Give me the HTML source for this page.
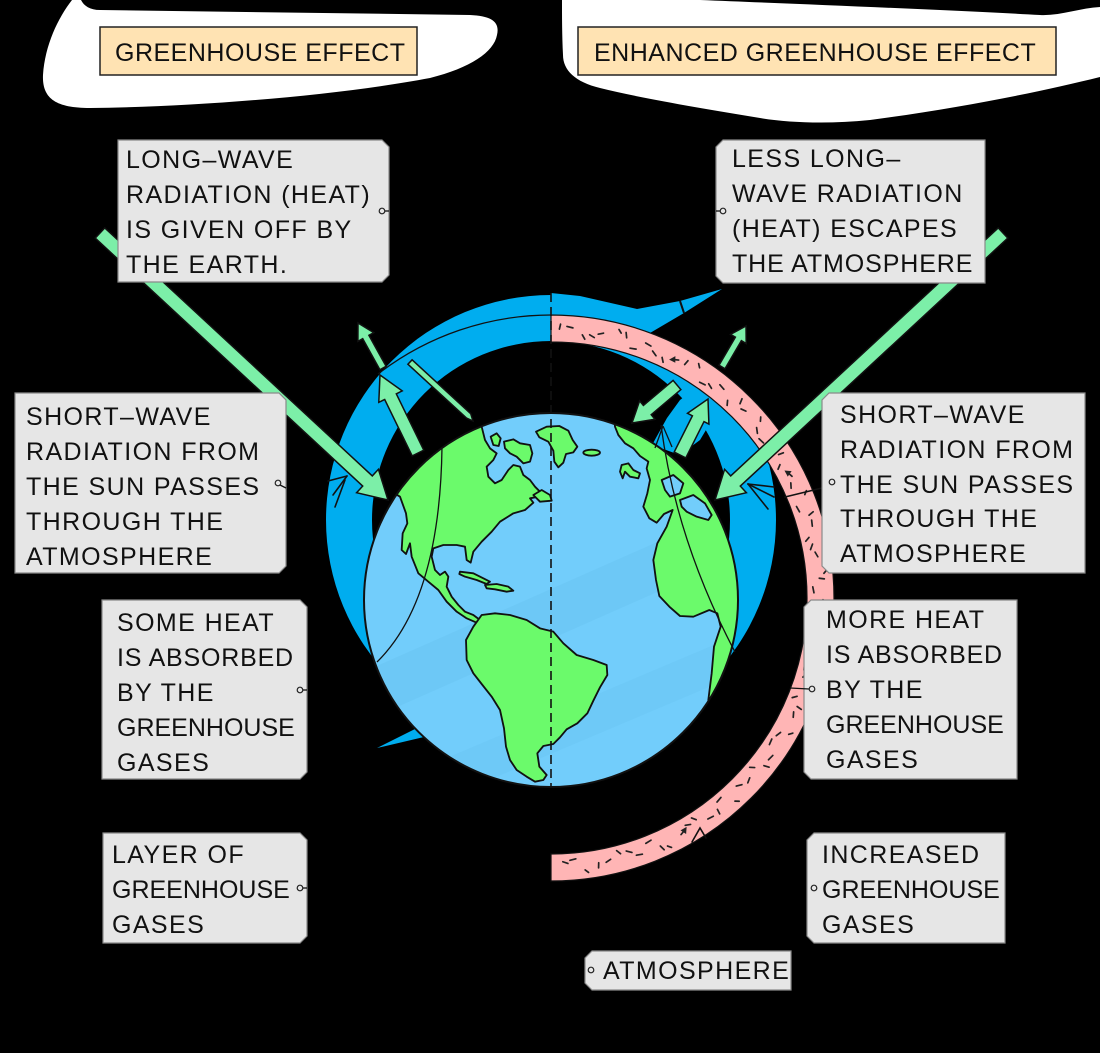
<!DOCTYPE html>
<html><head><meta charset="utf-8"><style>
html,body{margin:0;padding:0;background:#000;}
svg{display:block;}
.t{font-family:"Liberation Sans",sans-serif;font-size:25px;fill:#111;letter-spacing:1.4px;}
.tt{font-family:"Liberation Sans",sans-serif;font-size:25px;fill:#111;letter-spacing:0.5px;}
.box{fill:#e6e6e6;stroke:#8a8a8a;stroke-width:1.2;}
.arr{fill:#7cefa8;stroke:#111;stroke-width:1.5;stroke-linejoin:miter;}
.dot{fill:#e6e6e6;stroke:#222;stroke-width:1.2;}
.ln{stroke:#111;stroke-width:1.3;fill:none;}
.land{fill:#6bfa6b;stroke:#111;stroke-width:5.5;stroke-linejoin:round;}
.sea{fill:#72cdfb;stroke:#111;stroke-width:5.5;stroke-linejoin:round;}
.pd line{stroke:#222;stroke-width:1.7;stroke-linecap:round;}
</style></head><body>
<svg width="1100" height="1053" viewBox="0 0 1100 1053" xmlns="http://www.w3.org/2000/svg">
<defs>
<clipPath id="blueClip" clipPathUnits="userSpaceOnUse"><rect x="0" y="0" width="551" height="1053"/><circle cx="551" cy="598" r="283"/></clipPath>
<clipPath id="earthClip" clipPathUnits="userSpaceOnUse"><circle cx="551" cy="600" r="187"/></clipPath>
</defs>
<rect width="1100" height="1053" fill="#000"/>

<!-- white blobs -->
<path d="M72,0 L81,0 C84,6 90,10 100,10 L470,15 C492,16 500,22 497,35 C494,52 470,68 430,78 C340,95 200,107 90,108 C55,108 42,98 43,75 C45,45 58,18 72,0 Z" fill="#fff"/>
<path d="M562,0 L700,0 C800,4 950,10 1040,15 C1060,16 1080,8 1100,7 L1100,77 C1040,92 960,108 870,120 C830,124 790,123 760,118 C700,108 640,98 600,88 C575,82 563,70 563,55 C562,35 562,15 562,0 Z" fill="#fff"/>

<!-- titles -->
<rect x="100" y="27" width="317" height="48" fill="#ffe3b3" stroke="#222" stroke-width="1.5"/>
<text class="tt" x="115" y="61">GREENHOUSE EFFECT</text>
<rect x="578" y="27" width="478" height="48" fill="#ffe3b3" stroke="#222" stroke-width="1.5"/>
<text class="tt" x="594" y="61">ENHANCED GREENHOUSE EFFECT</text>

<!-- blue atmosphere ring -->
<g clip-path="url(#blueClip)">
<path fill-rule="evenodd" fill="#00adef" d="M326,520 a225,225 0 1 0 450,0 a225,225 0 1 0 -450,0 Z M372,520 a179,179 0 1 0 358,0 a179,179 0 1 0 -358,0 Z"/>
</g>
<path fill="#00adef" d="M551,293 L580,296 L637,309 L680,301 L722,289 L684,313 L650,333 A283,283 0 0 0 551,315 Z"/>
<line x1="680" y1="301" x2="684" y2="313" stroke="#111" stroke-width="2"/>
<path fill="#00adef" d="M652,445 L667,418 L680,400 L693,390 L707,397 L712,420 L700,440 L680,455 Z"/>
<path fill="#00adef" d="M377,748 L421,726 L424,737 Z"/>

<!-- black arc line left -->
<path d="M378,374 A283,283 0 0 1 551,315" class="ln" stroke-width="1.8"/>

<!-- pink enhanced ring -->
<path d="M551,315 A283,283 0 0 1 551,881 L551,854 A256,256 0 0 0 551,342 Z" fill="#ffb5b5" stroke="#111" stroke-width="1.2"/>
<g class="pd">
<line x1="548" y1="326" x2="554" y2="327" transform="rotate(4 551 598)"/>
<line x1="550" y1="333" x2="553" y2="337" transform="rotate(7 551 598)"/>
<line x1="547" y1="330" x2="552" y2="328" transform="rotate(11 551 598)"/>
<line x1="552" y1="321" x2="555" y2="324" transform="rotate(14 551 598)"/>
<line x1="549" y1="336" x2="555" y2="335" transform="rotate(18 551 598)"/>
<line x1="548" y1="326" x2="554" y2="327" transform="rotate(21 551 598)"/>
<line x1="550" y1="333" x2="553" y2="337" transform="rotate(25 551 598)"/>
<line x1="547" y1="330" x2="552" y2="328" transform="rotate(28 551 598)"/>
<line x1="552" y1="321" x2="555" y2="324" transform="rotate(32 551 598)"/>
<line x1="549" y1="336" x2="555" y2="335" transform="rotate(35 551 598)"/>
<line x1="548" y1="326" x2="554" y2="327" transform="rotate(39 551 598)"/>
<line x1="550" y1="333" x2="553" y2="337" transform="rotate(42 551 598)"/>
<line x1="547" y1="330" x2="552" y2="328" transform="rotate(46 551 598)"/>
<line x1="552" y1="321" x2="555" y2="324" transform="rotate(49 551 598)"/>
<line x1="549" y1="336" x2="555" y2="335" transform="rotate(53 551 598)"/>
<line x1="548" y1="326" x2="554" y2="327" transform="rotate(56 551 598)"/>
<line x1="550" y1="333" x2="553" y2="337" transform="rotate(60 551 598)"/>
<line x1="547" y1="330" x2="552" y2="328" transform="rotate(63 551 598)"/>
<line x1="552" y1="321" x2="555" y2="324" transform="rotate(67 551 598)"/>
<line x1="549" y1="336" x2="555" y2="335" transform="rotate(70 551 598)"/>
<line x1="548" y1="326" x2="554" y2="327" transform="rotate(74 551 598)"/>
<line x1="550" y1="333" x2="553" y2="337" transform="rotate(77 551 598)"/>
<line x1="547" y1="330" x2="552" y2="328" transform="rotate(81 551 598)"/>
<line x1="552" y1="321" x2="555" y2="324" transform="rotate(84 551 598)"/>
<line x1="549" y1="336" x2="555" y2="335" transform="rotate(88 551 598)"/>
<line x1="548" y1="326" x2="554" y2="327" transform="rotate(91 551 598)"/>
<line x1="550" y1="333" x2="553" y2="337" transform="rotate(95 551 598)"/>
<line x1="547" y1="330" x2="552" y2="328" transform="rotate(98 551 598)"/>
<line x1="552" y1="321" x2="555" y2="324" transform="rotate(102 551 598)"/>
<line x1="549" y1="336" x2="555" y2="335" transform="rotate(105 551 598)"/>
<line x1="548" y1="326" x2="554" y2="327" transform="rotate(109 551 598)"/>
<line x1="550" y1="333" x2="553" y2="337" transform="rotate(112 551 598)"/>
<line x1="547" y1="330" x2="552" y2="328" transform="rotate(116 551 598)"/>
<line x1="552" y1="321" x2="555" y2="324" transform="rotate(119 551 598)"/>
<line x1="549" y1="336" x2="555" y2="335" transform="rotate(123 551 598)"/>
<line x1="548" y1="326" x2="554" y2="327" transform="rotate(126 551 598)"/>
<line x1="550" y1="333" x2="553" y2="337" transform="rotate(130 551 598)"/>
<line x1="547" y1="330" x2="552" y2="328" transform="rotate(133 551 598)"/>
<line x1="552" y1="321" x2="555" y2="324" transform="rotate(137 551 598)"/>
<line x1="549" y1="336" x2="555" y2="335" transform="rotate(140 551 598)"/>
<line x1="548" y1="326" x2="554" y2="327" transform="rotate(144 551 598)"/>
<line x1="550" y1="333" x2="553" y2="337" transform="rotate(147 551 598)"/>
<line x1="547" y1="330" x2="552" y2="328" transform="rotate(151 551 598)"/>
<line x1="552" y1="321" x2="555" y2="324" transform="rotate(154 551 598)"/>
<line x1="549" y1="336" x2="555" y2="335" transform="rotate(158 551 598)"/>
<line x1="548" y1="326" x2="554" y2="327" transform="rotate(161 551 598)"/>
<line x1="550" y1="333" x2="553" y2="337" transform="rotate(165 551 598)"/>
<line x1="547" y1="330" x2="552" y2="328" transform="rotate(168 551 598)"/>
<line x1="552" y1="321" x2="555" y2="324" transform="rotate(172 551 598)"/>
<line x1="549" y1="336" x2="555" y2="335" transform="rotate(175 551 598)"/>
<line x1="551" y1="324" x2="550" y2="329" transform="rotate(2 551 598)"/>
<line x1="553" y1="334" x2="548" y2="332" transform="rotate(9 551 598)"/>
<line x1="550" y1="322" x2="552" y2="327" transform="rotate(16 551 598)"/>
<line x1="548" y1="331" x2="553" y2="334" transform="rotate(23 551 598)"/>
<line x1="551" y1="324" x2="550" y2="329" transform="rotate(30 551 598)"/>
<line x1="553" y1="334" x2="548" y2="332" transform="rotate(37 551 598)"/>
<line x1="550" y1="322" x2="552" y2="327" transform="rotate(44 551 598)"/>
<line x1="548" y1="331" x2="553" y2="334" transform="rotate(51 551 598)"/>
<line x1="551" y1="324" x2="550" y2="329" transform="rotate(58 551 598)"/>
<line x1="553" y1="334" x2="548" y2="332" transform="rotate(65 551 598)"/>
<line x1="550" y1="322" x2="552" y2="327" transform="rotate(72 551 598)"/>
<line x1="548" y1="331" x2="553" y2="334" transform="rotate(79 551 598)"/>
<line x1="551" y1="324" x2="550" y2="329" transform="rotate(86 551 598)"/>
<line x1="553" y1="334" x2="548" y2="332" transform="rotate(93 551 598)"/>
<line x1="550" y1="322" x2="552" y2="327" transform="rotate(100 551 598)"/>
<line x1="548" y1="331" x2="553" y2="334" transform="rotate(107 551 598)"/>
<line x1="551" y1="324" x2="550" y2="329" transform="rotate(114 551 598)"/>
<line x1="553" y1="334" x2="548" y2="332" transform="rotate(121 551 598)"/>
<line x1="550" y1="322" x2="552" y2="327" transform="rotate(128 551 598)"/>
<line x1="548" y1="331" x2="553" y2="334" transform="rotate(135 551 598)"/>
<line x1="551" y1="324" x2="550" y2="329" transform="rotate(142 551 598)"/>
<line x1="553" y1="334" x2="548" y2="332" transform="rotate(149 551 598)"/>
<line x1="550" y1="322" x2="552" y2="327" transform="rotate(156 551 598)"/>
<line x1="548" y1="331" x2="553" y2="334" transform="rotate(163 551 598)"/>
<line x1="551" y1="324" x2="550" y2="329" transform="rotate(170 551 598)"/>
<line x1="553" y1="334" x2="548" y2="332" transform="rotate(177 551 598)"/>
</g>
<g fill="#222">
<polygon points="548,332 555,332 552,326" transform="rotate(27 551 598)"/>
<polygon points="548,332 555,332 552,326" transform="rotate(62 551 598)"/>
<polygon points="548,332 555,332 552,326" transform="rotate(150 551 598)"/>
</g>

<!-- long incoming arrows -->
<polygon class="arr" points="95.2,238.1 362.7,486.1 356.6,492.7 388,500 378.4,469.3 372.3,475.9 104.8,227.9"/>
<polygon class="arr" points="1007.8,238.1 740.3,486.1 746.4,492.7 715,500 724.6,469.3 730.7,475.9 998.2,227.9"/>

<!-- earth -->
<circle cx="551" cy="600" r="187" fill="#72cdfb"/>
<g clip-path="url(#earthClip)">
<polygon points="300,700 820,470 820,520 300,750" fill="#68c3f0" opacity="0.45"/>
<polygon points="300,820 820,600 820,640 300,860" fill="#68c3f0" opacity="0.35"/>
<g transform="translate(300 280) scale(0.333333)">
<path class="land" d="M545,440 L548,400 L470,420 L330,520 L250,620 L300,650 L318,700 L322,730 L308,760 L305,810 L318,822 L330,790 L335,830 L355,880 L385,905 L415,930 L440,965 L470,995 L500,1015 L530,1028 L540,1020 L520,1005 L495,995 L475,975 L455,950 L440,920 L445,890 L435,875 L420,885 L405,870 L395,830 L400,805 L430,795 L470,795 L495,800 L500,840 L512,848 L520,815 L545,785 L575,755 L600,725 L640,700 L675,690 L700,668 L690,655 L715,650 L720,635 L705,620 L690,600 L670,585 L660,560 L640,555 L625,570 L605,600 L585,610 L565,590 L560,560 L580,540 L590,520 L570,505 L555,480 Z"/>
<path class="land" d="M572,470 L590,460 L602,475 L596,498 L580,495 Z"/>
<path class="land" d="M612,485 L640,478 L660,490 L690,495 L697,520 L690,545 L670,550 L650,530 L630,520 L615,505 Z"/>
<path class="land" d="M700,645 L725,630 L750,645 L755,662 L720,665 Z"/>
<path class="land" d="M708,455 L740,440 L778,438 L805,452 L818,480 L832,500 L820,517 L798,522 L790,548 L775,562 L763,545 L760,512 L745,485 L718,472 Z"/>
<ellipse class="land" cx="875" cy="518" rx="25" ry="9"/>
<path class="land" d="M480,875 L520,880 L550,895 L570,905 L560,912 L530,900 L495,890 L478,882 Z"/>
<path class="land" d="M555,915 L590,912 L625,920 L640,932 L620,935 L585,928 L560,925 Z"/>
<path class="land" d="M520,1040 L545,1005 L585,1000 L630,1005 L680,1020 L720,1045 L760,1055 L790,1090 L830,1125 L880,1140 L920,1155 L922,1185 L900,1222 L880,1262 L862,1300 L832,1330 L800,1348 L780,1372 L760,1392 L730,1398 L712,1420 L718,1460 L740,1485 L730,1500 L705,1505 L680,1490 L650,1470 L630,1440 L618,1400 L612,1345 L600,1290 L575,1250 L545,1212 L520,1180 L500,1140 L498,1080 Z"/>
<path class="land" d="M940,380 L945,440 L955,465 L975,490 L1000,505 L1020,528 L1045,545 L1040,565 L1050,600 L1042,640 L1030,680 L1048,715 L1070,728 L1092,702 L1118,690 L1100,740 L1072,790 L1060,840 L1068,900 L1078,948 L1108,980 L1140,1008 L1180,1010 L1228,990 L1252,1000 L1262,1040 L1242,1100 L1235,1180 L1225,1260 L1240,1300 L1400,1300 L1400,380 Z"/>
<path class="land" d="M965,555 L985,550 L1000,570 L1020,580 L1015,595 L990,590 L975,575 L968,595 L960,575 Z"/>
<path class="sea" d="M1085,600 L1120,585 L1150,610 L1140,640 L1110,650 L1095,630 Z"/>
<path class="sea" d="M1140,660 L1180,645 L1215,670 L1235,705 L1225,720 L1190,710 L1160,695 L1145,680 Z"/>
</g>
</g>
<!-- longitude lines -->
<path d="M442,447 Q440,600 377,662" class="ln"/>
<path d="M661,425 Q676,540 735,652" class="ln"/>
<line x1="663" y1="426" x2="655" y2="448" class="ln"/>
<line x1="663" y1="426" x2="672" y2="447" class="ln"/>
<circle cx="551" cy="600" r="187" fill="none" stroke="#111" stroke-width="2"/>
<line x1="551" y1="293" x2="551" y2="786" stroke="#111" stroke-width="1.6" stroke-dasharray="9 5"/>

<!-- short arrows -->
<polygon class="arr" points="423.8,450.2 396.3,393.8 402.2,390.9 380,375 378.8,402.3 384.7,399.5 412.2,455.9"/>
<polygon class="arr" points="386.1,366.3 368.9,335.3 373.7,332.6 358,323 357.9,341.4 362.7,338.7 379.9,369.7"/>
<polygon class="arr" points="407.9,364.2 466.5,418.1 473,421 470.7,413.7 412.1,359.8"/>
<polygon class="arr" points="685.8,457.9 704,421.6 708.9,424.1 708,399 687.5,413.3 692.4,415.8 674.2,452.1"/>
<polygon class="arr" points="725,368.8 741.4,340.7 746.2,343.5 746,326 730.6,334.4 735.4,337.1 719,365.2"/>
<polygon class="arr" points="680.9,389.6 651.2,414.7 655,419.3 632,423 639.6,400.9 643.4,405.5 673.1,380.4"/>

<!-- chevrons -->
<g stroke="#111" stroke-width="1.6" fill="none" stroke-linecap="round">
<line x1="328" y1="481" x2="347" y2="476"/>
<line x1="333" y1="495" x2="347" y2="476"/>
<line x1="335" y1="507" x2="345" y2="480"/>
<line x1="748" y1="484" x2="774" y2="487"/>
<line x1="748" y1="484" x2="774" y2="497"/>
<line x1="748" y1="484" x2="768" y2="509"/>
<polyline points="692,842 700,828 706,838"/>
<line x1="785" y1="497" x2="822" y2="488"/>
</g>

<!-- label boxes -->
<polygon class="box" points="118,140 382,140 389,147 389,275 382,282 118,282"/>
<text class="t" x="126" y="168">LONG–WAVE</text>
<text class="t" x="126" y="203">RADIATION (HEAT)</text>
<text class="t" x="126" y="238">IS GIVEN OFF BY</text>
<text class="t" x="126" y="273">THE EARTH.</text>
<line x1="385" y1="211" x2="389" y2="211" class="ln"/><circle class="dot" cx="382" cy="211" r="2.8"/>

<polygon class="box" points="723,140 985,140 985,283 723,283 716,276 716,147"/>
<text class="t" x="732" y="167">LESS LONG–</text>
<text class="t" x="732" y="202">WAVE RADIATION</text>
<text class="t" x="732" y="237">(HEAT) ESCAPES</text>
<text class="t" x="732" y="272" style="letter-spacing:0.9px">THE ATMOSPHERE</text>
<line x1="716" y1="211" x2="720" y2="211" class="ln"/><circle class="dot" cx="723" cy="211" r="2.8"/>

<polygon class="box" points="15,393 279,393 286,400 286,566 279,573 15,573"/>
<text class="t" x="26" y="425">SHORT–WAVE</text>
<text class="t" x="26" y="460">RADIATION FROM</text>
<text class="t" x="26" y="495">THE SUN PASSES</text>
<text class="t" x="26" y="530">THROUGH THE</text>
<text class="t" x="26" y="565">ATMOSPHERE</text>
<line x1="280" y1="485" x2="286" y2="488" class="ln"/><circle class="dot" cx="278" cy="483" r="2.8"/>

<polygon class="box" points="102,600 300,600 307,607 307,772 300,779 102,779"/>
<text class="t" x="117" y="631">SOME HEAT</text>
<text class="t" x="117" y="666" style="letter-spacing:0.8px">IS ABSORBED</text>
<text class="t" x="117" y="701">BY THE</text>
<text class="t" x="117" y="736" style="letter-spacing:0">GREENHOUSE</text>
<text class="t" x="117" y="771">GASES</text>
<line x1="303" y1="690" x2="307" y2="690" class="ln"/><circle class="dot" cx="300" cy="690" r="2.8"/>

<polygon class="box" points="103,833 300,833 307,840 307,936 300,943 103,943"/>
<text class="t" x="112" y="863">LAYER OF</text>
<text class="t" x="112" y="898" style="letter-spacing:0">GREENHOUSE</text>
<text class="t" x="112" y="933">GASES</text>
<line x1="303" y1="888" x2="307" y2="888" class="ln"/><circle class="dot" cx="300" cy="888" r="2.8"/>

<polygon class="box" points="829,393 1085,393 1085,573 829,573 822,566 822,400"/>
<text class="t" x="840" y="423">SHORT–WAVE</text>
<text class="t" x="840" y="458">RADIATION FROM</text>
<text class="t" x="840" y="493">THE SUN PASSES</text>
<text class="t" x="840" y="527">THROUGH THE</text>
<text class="t" x="840" y="562">ATMOSPHERE</text>
<circle class="dot" cx="832" cy="482" r="2.8"/>

<polygon class="box" points="811,600 1017,600 1017,779 811,779 804,772 804,607"/>
<text class="t" x="826" y="628">MORE HEAT</text>
<text class="t" x="826" y="663" style="letter-spacing:0.8px">IS ABSORBED</text>
<text class="t" x="826" y="698">BY THE</text>
<text class="t" x="826" y="733" style="letter-spacing:0">GREENHOUSE</text>
<text class="t" x="826" y="768">GASES</text>
<line x1="790" y1="688" x2="809" y2="689" class="ln"/><circle class="dot" cx="812" cy="689" r="2.8"/>

<polygon class="box" points="814,833 1005,833 1005,943 814,943 807,936 807,840"/>
<text class="t" x="822" y="863">INCREASED</text>
<text class="t" x="822" y="898" style="letter-spacing:0">GREENHOUSE</text>
<text class="t" x="822" y="933">GASES</text>
<circle class="dot" cx="814" cy="888" r="2.8"/>

<polygon class="box" points="592,951 791,951 791,990 592,990 585,983 585,958"/>
<text class="t" x="603" y="979">ATMOSPHERE</text>
<circle class="dot" cx="591" cy="970" r="2.8"/>
</svg>
</body></html>
